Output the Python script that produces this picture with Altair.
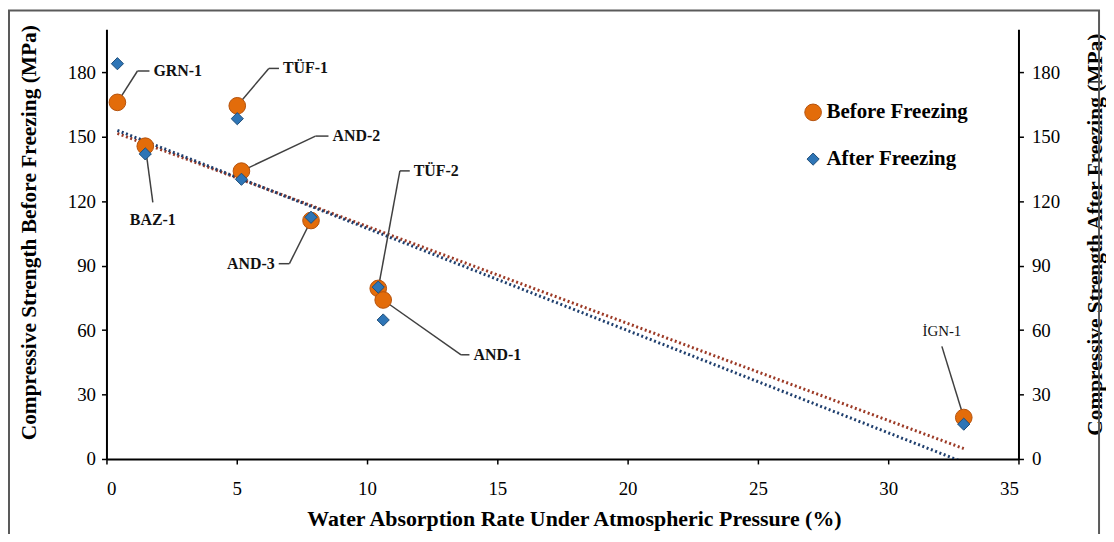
import altair as alt
import pandas as pd

# ---- data ----
samples = ["GRN-1", "BAZ-1", "TÜF-1", "AND-2", "AND-3", "TÜF-2", "AND-1", "İGN-1"]
water_abs = [0.42, 1.49, 5.02, 5.18, 7.85, 10.43, 10.62, 32.9]
before_freezing = [166, 145.6, 164.4, 134, 111, 79.4, 74, 19.3]
after_freezing = [184, 142, 158.4, 130.2, 112.5, 80, 64.7, 16.2]

series_names = ["Before Freezing", "After Freezing"]
x_ticks = [0, 5, 10, 15, 20, 25, 30, 35]
y_ticks = [0, 30, 60, 90, 120, 150, 180]

# annotation leader lines (elbow and end of the short horizontal stub, data units)
elbow_x = [1.19, 1.78, 6.23, 8.02, 7.02, 11.26, 13.61, 32.06]
elbow_y = [180.6, 119.4, 181.8, 150.3, 90.9, 134.1, 48.5, 52.4]
end_x = [1.65, 1.78, 6.62, 8.52, 6.61, 11.64, 13.93, 32.06]
end_y = [180.6, 119.4, 181.8, 150.3, 90.9, 134.1, 48.5, 52.4]

left_labels = ["GRN-1", "TÜF-1", "AND-2", "TÜF-2", "AND-1"]
right_labels = ["AND-3"]
below_labels = ["BAZ-1"]
above_labels = ["İGN-1"]

# ---- tables ----
long_rows = []
for name, vals in zip(series_names, [before_freezing, after_freezing]):
    for s, x, v in zip(samples, water_abs, vals):
        long_rows.append({"sample": s, "water": x, "value": v, "series": name})
df = pd.DataFrame(long_rows)

df_lab = pd.DataFrame({
    "sample": samples, "water": water_abs, "before": before_freezing,
    "ex": elbow_x, "ey": elbow_y, "tx": end_x, "ty": end_y,
})

FONT = "Liberation Serif"
ORANGE = "#E36C0A"
BLUE = "#2E75B6"

xscale = alt.Scale(domain=[0, 35], nice=False, zero=True)
yscale = alt.Scale(domain=[0, 200], nice=False, zero=True)

X_TITLE = "Water Absorption Rate Under Atmospheric Pressure (%)"
YL_TITLE = "Compressive Strength Before Freezing (MPa)"
YR_TITLE = "Compressive Strength After Freezing (MPa)"

lab_style = dict(labelFont=FONT, labelFontSize=19, labelColor="black",
                 titleFont=FONT, titleFontWeight="bold", titleColor="black")

x_axis = alt.Axis(values=x_ticks, title=X_TITLE, titlePadding=10, labelPadding=16,
                  titleFontSize=22, titleX=470, **lab_style)
yl_axis = alt.Axis(values=y_ticks, orient="left", title=YL_TITLE, titlePadding=27,
                   labelPadding=6, titleFontSize=21.5, titleY=204, **lab_style)
yr_axis = alt.Axis(values=y_ticks, orient="right", title=YR_TITLE, titleAngle=270,
                   titleBaseline="top", titlePadding=25, labelPadding=8,
                   titleFontSize=21.5, titleY=206, **lab_style)


def X(field):
    return alt.X(field, type="quantitative", scale=xscale, axis=x_axis, title=X_TITLE)


def Y(field):
    return alt.Y(field, type="quantitative", scale=yscale, axis=yl_axis, title=YL_TITLE)


base = alt.Chart(df)

# trend lines (linear regression computed by Vega)
trend_before = base.transform_filter(alt.datum.series == "Before Freezing").transform_regression(
    "water", "value").mark_line(color="#9C3A26", strokeWidth=3, strokeDash=[2, 2.6],
                                strokeCap="butt", clip=True).encode(x=X("water"), y=Y("value"))
trend_after = base.transform_filter(alt.datum.series == "After Freezing").transform_regression(
    "water", "value").mark_line(color="#1F3F6E", strokeWidth=3, strokeDash=[2, 2.6],
                                strokeCap="butt", clip=True).encode(x=X("water"), y=Y("value"))

# leader lines
lab = alt.Chart(df_lab)
lead1 = lab.mark_rule(color="#404040", strokeWidth=1.5).encode(
    x=X("water"), y=Y("before"), x2="ex:Q", y2="ey:Q")
lead2 = lab.mark_rule(color="#404040", strokeWidth=1.5).encode(
    x=X("ex"), y=Y("ey"), x2="tx:Q", y2="ty:Q")

# points
sdom = series_names
points = base.mark_point(filled=True, opacity=1, strokeWidth=1).encode(
    x=X("water"), y=Y("value"),
    color=alt.Color("series:N", scale=alt.Scale(domain=sdom, range=[ORANGE, BLUE]), title=None),
    stroke=alt.Stroke("series:N", scale=alt.Scale(domain=sdom, range=["#B4520C", "#1F4E79"]), title=None),
    shape=alt.Shape("series:N", scale=alt.Scale(domain=sdom, range=["circle", "diamond"]), title=None),
    size=alt.Size("series:N", scale=alt.Scale(domain=sdom, range=[280, 150]), title=None),
    order=alt.Order("order:Q"),
).transform_calculate(order="datum.series == 'Before Freezing' ? 0 : 1")

# label texts
txt_kw = dict(font=FONT, fontSize=16, fontWeight="bold", color="#111111", baseline="middle")
t_left = lab.transform_filter(alt.FieldOneOfPredicate(field="sample", oneOf=left_labels)).mark_text(
    align="left", dx=4, **txt_kw).encode(x=X("tx"), y=Y("ty"), text="sample:N")
t_right = lab.transform_filter(alt.FieldOneOfPredicate(field="sample", oneOf=right_labels)).mark_text(
    align="right", dx=-4, **txt_kw).encode(x=X("tx"), y=Y("ty"), text="sample:N")
t_below = lab.transform_filter(alt.FieldOneOfPredicate(field="sample", oneOf=below_labels)).mark_text(
    align="center", dy=18, **txt_kw).encode(x=X("tx"), y=Y("ty"), text="sample:N")
t_above = lab.transform_filter(alt.FieldOneOfPredicate(field="sample", oneOf=above_labels)).mark_text(
    align="center", dy=-15, font=FONT, fontSize=15, color="#111111", baseline="middle").encode(
    x=X("tx"), y=Y("ty"), text="sample:N")

# outer frame (decoration)
frame = alt.Chart(pd.DataFrame({"k": [0]})).mark_rect(
    fill=None, stroke="#5a5a5a", strokeWidth=2, clip=False).encode(
    x=alt.value(-98), x2=alt.value(998), y=alt.value(-19), y2=alt.value(530))

main = alt.layer(frame, trend_before, trend_after, lead1, lead2, points,
                 t_left, t_right, t_below, t_above)

right_layer = base.transform_filter(alt.datum.series == "After Freezing").mark_point(opacity=0).encode(
    x=X("water"),
    y=alt.Y("value:Q", scale=yscale, axis=yr_axis, title=YR_TITLE),
)

chart = alt.layer(main, right_layer).resolve_scale(y="independent").properties(
    width=917, height=432,
    autosize=alt.AutoSizeParams(type="none"),
    padding={"left": 99, "top": 20, "right": 88, "bottom": 74},
).configure(
    font=FONT,
    style={"guide-label": {"font": FONT, "fontSize": 19, "fill": "black"},
           "guide-title": {"font": FONT, "fontWeight": "bold", "fill": "black"}},
).configure_view(stroke=None).configure_axis(
    grid=False, domainColor="black", domainWidth=2, tickColor="black", tickWidth=1.5,
    tickSize=5, labelFont=FONT, labelFontSize=19, labelColor="black",
    titleFont=FONT, titleFontWeight="bold", titleColor="black",
).configure_legend(
    orient="none", legendX=700, legendY=73, labelFont=FONT, labelFontSize=21,
    labelFontWeight="bold", labelColor="black", rowPadding=25, padding=0, labelOffset=3,
    symbolStrokeWidth=1,
)

chart.save("out.html", embed_options={"renderer": "svg", "actions": False})
